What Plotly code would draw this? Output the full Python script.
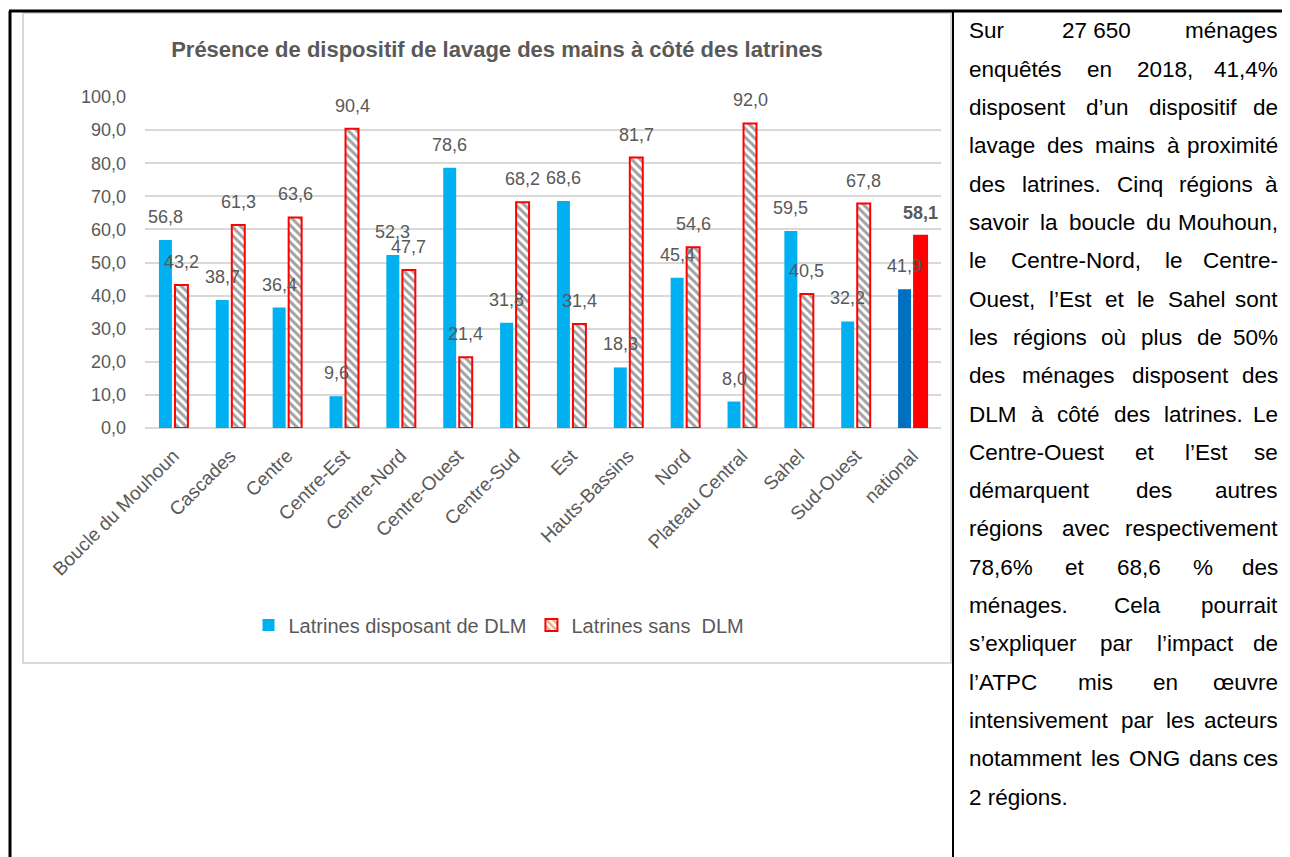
import plotly.graph_objects as go

regions = ["Boucle du Mouhoun", "Cascades", "Centre", "Centre-Est", "Centre-Nord",
           "Centre-Ouest", "Centre-Sud", "Est", "Hauts-Bassins", "Nord",
           "Plateau Central", "Sahel", "Sud-Ouest", "national"]
avec_dlm = [56.8, 38.7, 36.4, 9.6, 52.3, 78.6, 31.8, 68.6, 18.3, 45.4, 8.0, 59.5, 32.2, 41.9]
sans_dlm = [43.2, 61.3, 63.6, 90.4, 47.7, 21.4, 68.2, 31.4, 81.7, 54.6, 92.0, 40.5, 67.8, 58.1]
y_ticks = [0, 10, 20, 30, 40, 50, 60, 70, 80, 90, 100]

title_text = "Présence de dispositif de lavage des mains à côté des latrines"
legend_names = ["Latrines disposant de DLM", "Latrines sans\u00a0 DLM"]

paragraph_lines = [
    "Sur 27\u00a0650 ménages",
    "enquêtés en 2018, 41,4%",
    "disposent d’un dispositif de",
    "lavage des mains à proximité",
    "des latrines. Cinq régions à",
    "savoir la boucle du Mouhoun,",
    "le Centre-Nord, le Centre-",
    "Ouest, l’Est et le Sahel sont",
    "les régions où plus de 50%",
    "des ménages disposent des",
    "DLM à côté des latrines. Le",
    "Centre-Ouest et l’Est se",
    "démarquent des autres",
    "régions avec respectivement",
    "78,6% et 68,6 % des",
    "ménages. Cela pourrait",
    "s’expliquer par l’impact de",
    "l’ATPC mis en œuvre",
    "intensivement par les acteurs",
    "notamment les ONG dans ces",
    "2 régions.",
]

OFF = 8  # page body margin pushes the figure 8px right and down
W, H = 1290 - OFF, 857 - OFF
FONT = "Liberation Sans, Arial, sans-serif"
GREY = "#595959"
TXT_SIZE = 22.5


def fmt(v):
    return f"{v:.1f}".replace(".", ",")


def px(x):
    return (x - OFF) / W


def py(y):
    return 1 - (y - OFF) / H


# Arial widths (per 1000 em) for spacing out the justified words
ARIAL = {" ": 278, "\u00a0": 278, ",": 278, ".": 278, "%": 889, "-": 333, "’": 222,
         "i": 222, "j": 222, "l": 222, "f": 278, "t": 278, "r": 333, "m": 833,
         "w": 722, "c": 500, "k": 500, "s": 500, "v": 500, "x": 500, "y": 500,
         "z": 500, "œ": 944, "I": 278, "J": 500, "L": 556, "F": 611, "T": 611,
         "Z": 611, "G": 778, "O": 778, "Q": 778, "M": 833, "W": 944,
         "C": 722, "D": 722, "H": 722, "N": 722, "R": 722, "U": 722}


def text_width(s, size):
    total = 0
    for ch in s:
        if ch in ARIAL:
            total += ARIAL[ch]
        elif ch.isupper():
            total += 667
        else:
            total += 556
    return total / 1000 * size


fig = go.Figure()

fig.add_trace(go.Bar(
    x=regions, y=avec_dlm, name=legend_names[0],
    marker=dict(color=["#00B0F0"] * (len(regions) - 1) + ["#0070C0"], line_width=0),
    hoverinfo="skip",
))
fig.add_trace(go.Bar(
    x=regions, y=sans_dlm, name=legend_names[1],
    marker=dict(
        color=["white"] * (len(regions) - 1) + ["#FF0000"],
        line=dict(color="#FF0000", width=2),
        pattern=dict(shape=["\\"] * (len(regions) - 1) + [""], fgcolor="#D0601A",
                     size=6, solidity=0.5, fillmode="overlay"),
    ),
    hoverinfo="skip",
))

annotations = []
for i, r in enumerate(regions):
    annotations.append(dict(x=r, y=avec_dlm[i], xref="x", yref="y", text=fmt(avec_dlm[i]),
                            showarrow=False, xshift=-8, yshift=23,
                            font=dict(family=FONT, size=18, color=GREY)))
    lab = fmt(sans_dlm[i])
    if r == "national":
        lab = "<b>" + lab + "</b>"
    annotations.append(dict(x=r, y=sans_dlm[i], xref="x", yref="y", text=lab,
                            showarrow=False, xshift=8, yshift=23,
                            font=dict(family=FONT, size=18, color=GREY)))

# justified paragraph on the right
L, R = 967, 1280
for i, line in enumerate(paragraph_lines):
    yy = py(31 + 38.3 * i)
    words = line.split(" ")
    if i == len(paragraph_lines) - 1 or len(words) == 1:
        annotations.append(dict(x=px(L), y=yy, xref="paper", yref="paper", text=line,
                                xanchor="left", yanchor="middle", showarrow=False,
                                font=dict(family=FONT, size=TXT_SIZE, color="black")))
        continue
    widths = [text_width(w, TXT_SIZE) for w in words]
    gap = (R - L - sum(widths)) / (len(words) - 1)
    x = L
    for k, w in enumerate(words):
        if k == len(words) - 1:
            annotations.append(dict(x=px(R), y=yy, xref="paper", yref="paper", text=w,
                                    xanchor="right", yanchor="middle", showarrow=False,
                                    font=dict(family=FONT, size=TXT_SIZE, color="black")))
        else:
            annotations.append(dict(x=px(x), y=yy, xref="paper", yref="paper", text=w,
                                    xanchor="left", yanchor="middle", showarrow=False,
                                    font=dict(family=FONT, size=TXT_SIZE, color="black")))
        x += widths[k] + gap

shapes = [
    # chart frame
    dict(type="rect", xref="paper", yref="paper", x0=px(23), x1=px(951), y0=py(663), y1=py(13),
         line=dict(color="#D9D9D9", width=2), layer="below"),
    # table borders
    dict(type="line", xref="paper", yref="paper", x0=px(9), x1=1, y0=py(11), y1=py(11),
         line=dict(color="black", width=3)),
    dict(type="line", xref="paper", yref="paper", x0=px(10), x1=px(10), y0=py(11), y1=0,
         line=dict(color="black", width=3)),
    dict(type="line", xref="paper", yref="paper", x0=px(953), x1=px(953), y0=py(11), y1=0,
         line=dict(color="black", width=2)),
]

fig.update_layout(
    width=W, height=H,
    margin=dict(l=0, r=0, t=0, b=0, autoexpand=False),
    paper_bgcolor="white", plot_bgcolor="white",
    separators=", ",
    barmode="group", bargap=0.437, bargroupgap=0.19,
    title=dict(text=title_text, x=px(497), y=py(49), xanchor="center", yanchor="middle",
               font=dict(family=FONT, size=22, color=GREY, weight="bold")),
    xaxis=dict(domain=[px(145), px(941)], tickangle=-45, ticklabelstandoff=12,
               tickfont=dict(family=FONT, size=19, color=GREY), showgrid=False,
               showline=False, zeroline=False, automargin=False),
    yaxis=dict(domain=[py(428), py(97)], range=[0, 100], tickvals=y_ticks, tickformat=".1f",
               tickfont=dict(family=FONT, size=18, color=GREY), ticklabelstandoff=18,
               showgrid=True, gridcolor="#D9D9D9", gridwidth=2, zeroline=True,
               zerolinecolor="#D9D9D9", zerolinewidth=2, automargin=False),
    legend=dict(orientation="h", x=px(499), y=py(625), xanchor="center", yanchor="middle",
                font=dict(family=FONT, size=20, color=GREY), traceorder="normal",
                itemwidth=30),
    showlegend=True,
    annotations=annotations,
    shapes=shapes,
)

fig.write_html("out.html")
